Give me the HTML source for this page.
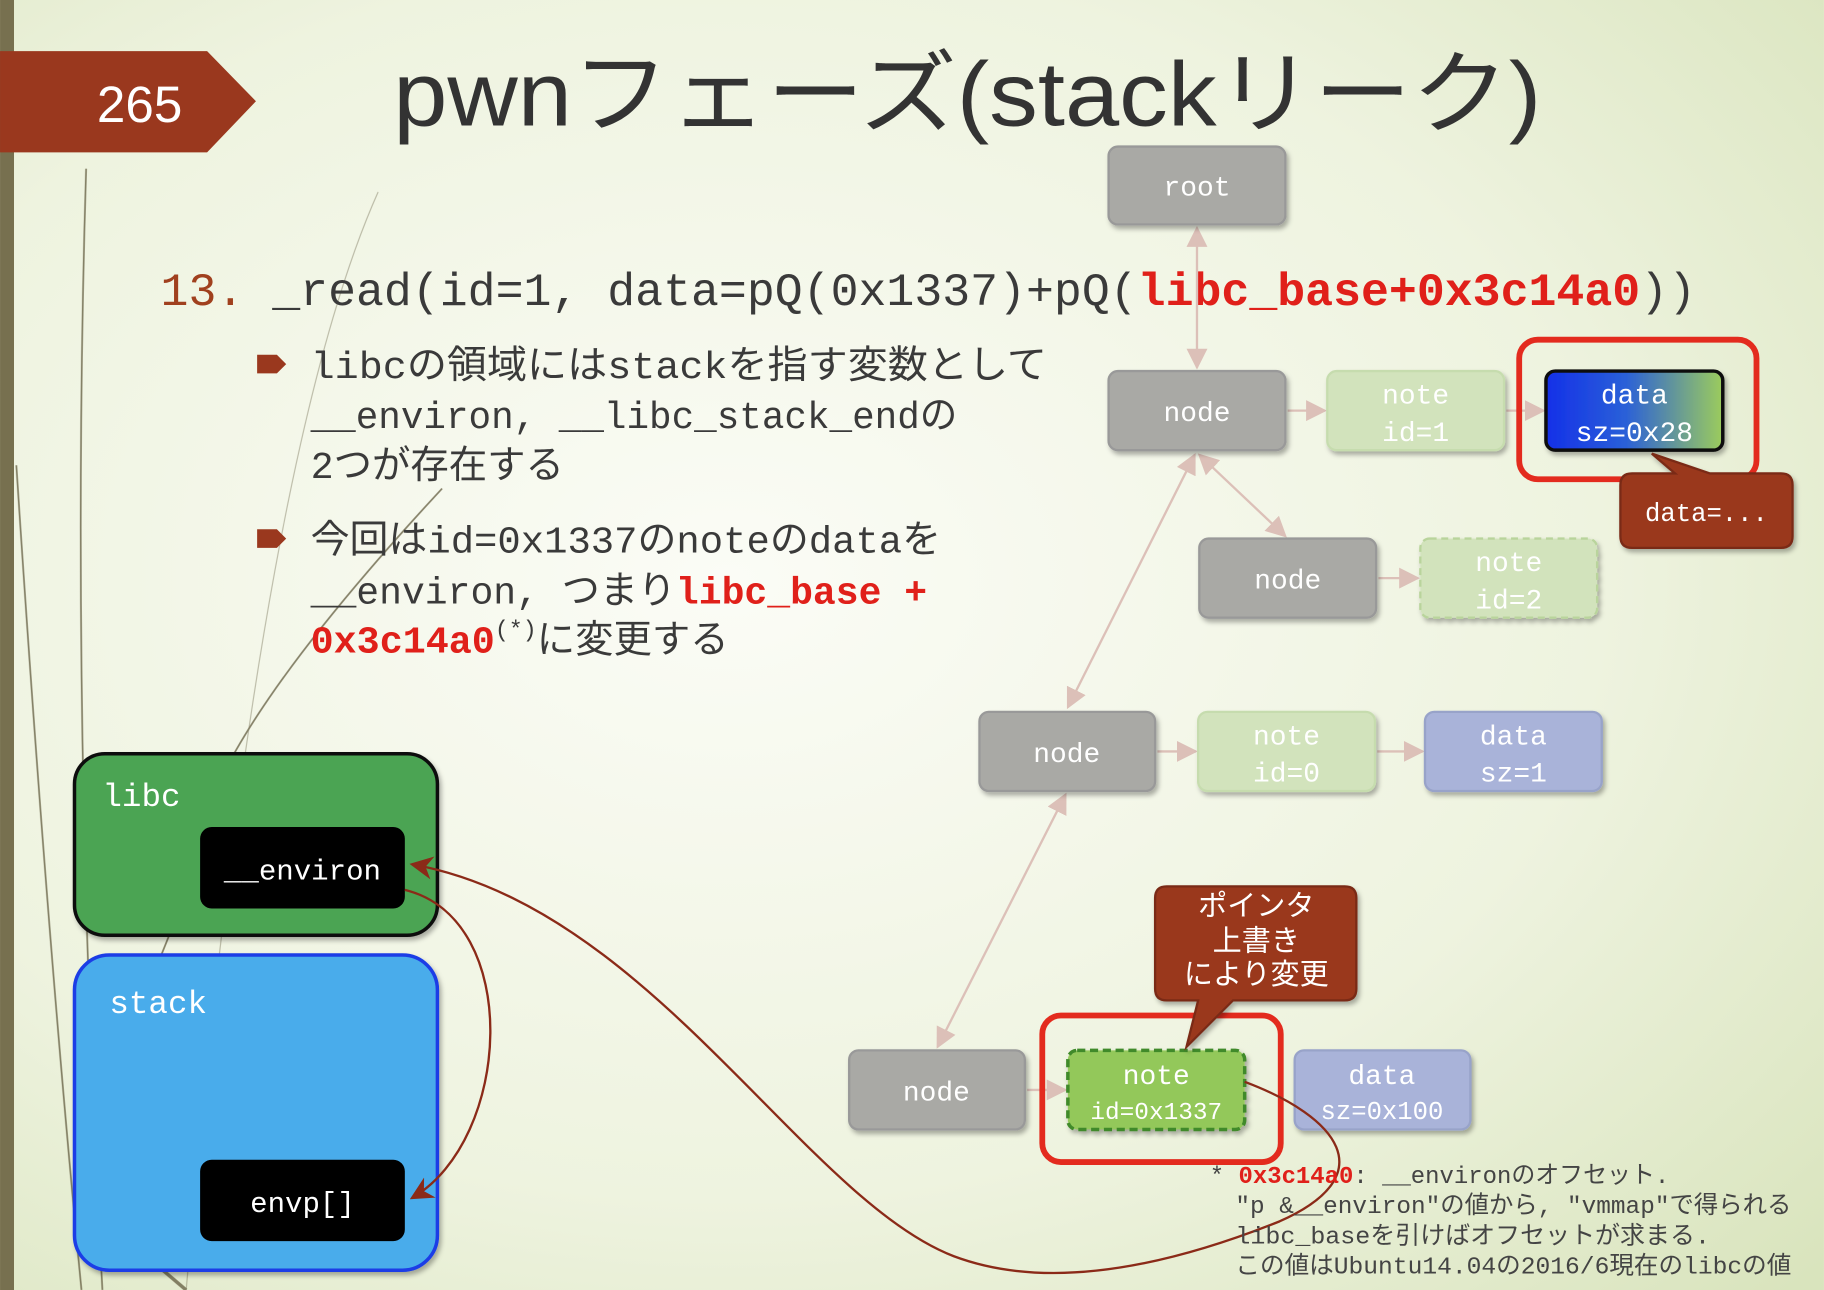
<!DOCTYPE html>
<html><head><meta charset="utf-8"><style>
html,body{margin:0;padding:0;width:1824px;height:1290px;overflow:hidden;}
svg{display:block}
.m{font-family:"Liberation Mono","Noto Sans CJK JP",monospace;}
.s{font-family:"Liberation Sans","Noto Sans CJK JP",sans-serif;}
</style></head><body>
<svg width="1824" height="1290" viewBox="0 0 1568 1109" xmlns="http://www.w3.org/2000/svg">
<defs>
<radialGradient id="bg" cx="0.4" cy="0.45" r="0.8">
<stop offset="0" stop-color="#fbfcf6"/><stop offset="0.6" stop-color="#eef3df"/><stop offset="1" stop-color="#d9e4bd"/>
</radialGradient>
<linearGradient id="dg" x1="0" y1="0" x2="1" y2="0">
<stop offset="0" stop-color="#1430e8"/><stop offset="0.45" stop-color="#2a60d8"/><stop offset="1" stop-color="#9ccc5c"/>
</linearGradient>
<marker id="ar" viewBox="0 0 10 10" refX="9" refY="5" markerWidth="9" markerHeight="9" orient="auto-start-reverse"><path d="M0,0 L10,5 L0,10 z" fill="#dcc0b8"/></marker>
<marker id="br" viewBox="0 0 10 10" refX="9" refY="5" markerWidth="10" markerHeight="10" orient="auto-start-reverse"><path d="M0,0 L10,5 L0,10 L3,5 z" fill="#8b2a18"/></marker>
<filter id="sh" x="-10%" y="-10%" width="130%" height="140%"><feDropShadow dx="2" dy="3" stdDeviation="2" flood-opacity="0.3"/></filter>
</defs>
<rect width="1568" height="1109" fill="url(#bg)"/>
<rect width="12" height="1109" fill="#77704f"/>
<g stroke="#6a6448" fill="none" stroke-width="1.5" opacity="0.8">
<path d="M74,145 Q60,600 88,1109"/>
<path d="M14,400 Q40,800 70,1109"/>
<path d="M325,165 Q220,400 160,1109" stroke-width="1" opacity="0.5"/>
<path d="M380,420 Q250,560 200,650"/>
<path d="M145,805 L135,830"/>
<path d="M140,1092 L160,1109" stroke-width="3"/>
</g>
<!-- badge -->
<polygon points="0,44 178,44 220,87 178,131 0,131" fill="#9a381e"/>
<text x="120" y="105" class="s" font-size="44" fill="#fff" text-anchor="middle">265</text>
<text x="338" y="108" class="s" font-size="78" fill="#333" textLength="987" lengthAdjust="spacingAndGlyphs">pwnフェーズ(stackリーク)</text>
<!-- line 13 -->
<text x="138" y="262" class="m" font-size="40" fill="#3a3a3a" textLength="1320" lengthAdjust="spacingAndGlyphs"><tspan fill="#a0401e">13.</tspan> _read(id=1, data=pQ(0x1337)+pQ(<tspan fill="#e0201a" font-weight="bold">libc_base+0x3c14a0</tspan>))</text>
<!-- bullets -->
<path d="M221,305 L238,305 L246,313 L238,321 L221,321 z" fill="#9a381e"/>
<path d="M221,455 L238,455 L246,463 L238,471 L221,471 z" fill="#9a381e"/>
<g class="m" font-size="33" fill="#3a3a3a">
<text x="267" y="325" textLength="633" lengthAdjust="spacingAndGlyphs">libcの領域にはstackを指す変数として</text>
<text x="267" y="368" textLength="556" lengthAdjust="spacingAndGlyphs">__environ, __libc_stack_endの</text>
<text x="267" y="411">2つが存在する</text>
<text x="267" y="475" textLength="542" lengthAdjust="spacingAndGlyphs">今回はid=0x1337のnoteのdataを</text>
<text x="267" y="519" textLength="530" lengthAdjust="spacingAndGlyphs">__environ, つまり<tspan fill="#e0201a" font-weight="bold">libc_base +</tspan></text>
<text x="267" y="561"><tspan fill="#e0201a" font-weight="bold">0x3c14a0</tspan><tspan font-size="20" dy="-14">(*)</tspan><tspan dy="14">に変更する</tspan></text>
</g>
<!-- connectors -->
<g stroke="#dcc0b8" stroke-width="2" fill="none" marker-end="url(#ar)">
<line x1="1029" y1="196" x2="1029" y2="316" marker-start="url(#ar)"/>
<line x1="1107" y1="353" x2="1139" y2="353"/>
<line x1="1295" y1="353" x2="1327" y2="353"/>
<line x1="1031" y1="391" x2="1105" y2="461" marker-start="url(#ar)"/>
<line x1="1027" y1="391" x2="918" y2="608" marker-start="url(#ar)"/>
<line x1="1185" y1="497" x2="1219" y2="497"/>
<line x1="995" y1="646" x2="1028" y2="646"/>
<line x1="1184" y1="646" x2="1223" y2="646"/>
<line x1="916" y1="683" x2="806" y2="900" marker-start="url(#ar)"/>
<line x1="883" y1="937" x2="916" y2="937"/>
</g>
<!-- nodes -->
<g class="m" font-size="24" text-anchor="middle" fill="#fff">
<g filter="url(#sh)">
<rect x="953" y="126" width="152" height="67" rx="8" fill="#a9a9a5" stroke="#999" stroke-width="2"/>
<rect x="953" y="319" width="152" height="68" rx="8" fill="#a9a9a5" stroke="#999" stroke-width="2"/>
<rect x="1031" y="463" width="152" height="68" rx="8" fill="#a9a9a5" stroke="#999" stroke-width="2"/>
<rect x="842" y="612" width="151" height="68" rx="8" fill="#a9a9a5" stroke="#999" stroke-width="2"/>
<rect x="730" y="903" width="151" height="68" rx="8" fill="#a9a9a5" stroke="#999" stroke-width="2"/>
<rect x="1141" y="319" width="152" height="68" rx="8" fill="#d2e3bc" stroke="#c6dcae" stroke-width="2"/>
<rect x="1221" y="463" width="152" height="68" rx="8" fill="#d2e3bc" stroke="#b9d49c" stroke-width="2" stroke-dasharray="6,4"/>
<rect x="1030" y="612" width="152" height="68" rx="8" fill="#d2e3bc" stroke="#c6dcae" stroke-width="2"/>
<rect x="1225" y="612" width="152" height="68" rx="8" fill="#a9b3d9" stroke="#98a3c9" stroke-width="2"/>
<rect x="1113" y="903" width="151" height="68" rx="8" fill="#a9b3d9" stroke="#98a3c9" stroke-width="2"/>
<rect x="918" y="903" width="152" height="68" rx="8" fill="#93c85a" stroke="#3f8a2a" stroke-width="3" stroke-dasharray="7,4"/>
<rect x="1329" y="319" width="152" height="68" rx="8" fill="url(#dg)" stroke="#111" stroke-width="3"/>
</g>
<text x="1029" y="168">root</text>
<text x="1029" y="362">node</text>
<text x="1107" y="506">node</text>
<text x="917" y="655">node</text>
<text x="805" y="946">node</text>
<text x="1217" y="347">note</text><text x="1217" y="379">id=1</text>
<text x="1297" y="491">note</text><text x="1297" y="523">id=2</text>
<text x="1106" y="640">note</text><text x="1106" y="672">id=0</text>
<text x="1301" y="640">data</text><text x="1301" y="672">sz=1</text>
<text x="1188" y="932">data</text><text x="1188" y="962" font-size="22">sz=0x100</text>
<text x="994" y="932">note</text><text x="994" y="962" font-size="21">id=0x1337</text>
<text x="1405" y="347">data</text><text x="1405" y="379">sz=0x28</text>
</g>
<!-- red highlight boxes -->
<rect x="1306" y="292" width="204" height="120" rx="16" fill="none" stroke="#e32b1e" stroke-width="5"/>
<rect x="896" y="873" width="205" height="126" rx="16" fill="none" stroke="#e32b1e" stroke-width="5"/>
<!-- callouts -->
<g filter="url(#sh)">
<path d="M1393,417 Q1393,407 1403,407 L1440,407 L1420,390 L1470,407 L1531,407 Q1541,407 1541,417 L1541,461 Q1541,471 1531,471 L1403,471 Q1393,471 1393,461 z" fill="#9a381e" stroke="#7a2a14" stroke-width="2"/>
<path d="M993,772 Q993,762 1003,762 L1156,762 Q1166,762 1166,772 L1166,850 Q1166,860 1156,860 L1060,860 L1020,900 L1030,860 L1003,860 Q993,860 993,850 z" fill="#9a381e" stroke="#7a2a14" stroke-width="2"/>
</g>
<text x="1467" y="448" class="m" font-size="22" fill="#fff" text-anchor="middle">data=...</text>
<g class="s" font-size="25" fill="#fff" text-anchor="middle">
<text x="1080" y="787">ポインタ</text><text x="1080" y="817">上書き</text><text x="1080" y="846">により変更</text>
</g>
<!-- libc / stack -->
<g filter="url(#sh)">
<rect x="64" y="648" width="312" height="156" rx="26" fill="#4ba453" stroke="#111" stroke-width="3"/>
<rect x="64" y="821" width="312" height="271" rx="30" fill="#4aaceb" stroke="#1a3ee6" stroke-width="3"/>
<rect x="172" y="711" width="176" height="70" rx="10" fill="#000"/>
<rect x="172" y="997" width="176" height="70" rx="10" fill="#000"/>
</g>
<g class="m" fill="#fff">
<text x="88" y="693" font-size="28">libc</text>
<text x="94" y="871" font-size="28">stack</text>
<text x="260" y="756" font-size="25" text-anchor="middle">__environ</text>
<text x="260" y="1042" font-size="25" text-anchor="middle">envp[]</text>
</g>
<!-- brown curves -->
<g stroke="#8b2a18" stroke-width="2" fill="none">
<path d="M348,765 C450,790 440,980 354,1030" marker-end="url(#br)"/>
<path d="M1070,930 C1150,960 1190,1010 1100,1050 C1000,1090 900,1110 820,1080 C690,1030 560,780 354,743" marker-end="url(#br)"/>
</g>
<!-- footnote -->
<g class="m" font-size="21" fill="#444">
<text x="1040" y="1017" textLength="395" lengthAdjust="spacingAndGlyphs">* <tspan fill="#e0201a" font-weight="bold">0x3c14a0</tspan>: __environのオフセット.</text>
<text x="1062" y="1043" textLength="478" lengthAdjust="spacingAndGlyphs">"p &amp;__environ"の値から, "vmmap"で得られる</text>
<text x="1062" y="1069" textLength="408" lengthAdjust="spacingAndGlyphs">libc_baseを引けばオフセットが求まる.</text>
<text x="1062" y="1095" textLength="478" lengthAdjust="spacingAndGlyphs">この値はUbuntu14.04の2016/6現在のlibcの値</text>
</g>
</svg>
</body></html>
